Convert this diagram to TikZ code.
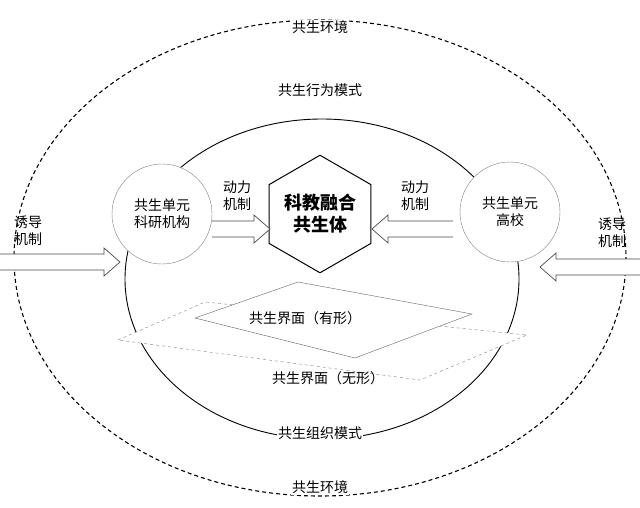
\documentclass[tikz,border=0pt]{standalone}
\usepackage{fontspec}
\setmainfont{Noto Sans CJK SC}
\usetikzlibrary{shapes.geometric}
\newcommand{\myblockarrow}[4]{% name, tail x, tip x, y
  \path let \n1={#3>#2?1:-1} in coordinate (#1) at (#3,#4)
   [draw=black!70,fill=white,line width=0.7pt]
   (#2,#4-8) -- (#3-\n1*16,#4-8) -- (#3-\n1*16,#4-14) -- (#3,#4) -- (#3-\n1*16,#4+14) -- (#3-\n1*16,#4+8) -- (#2,#4+8);}
\usetikzlibrary{calc}
\begin{document}
\begin{tikzpicture}[x=1pt,y=-1pt,
  lbl/.style={font=\fontsize{14}{17}\selectfont},
  unit/.style={circle,draw=black!50,fill=white,minimum size=100pt,inner sep=0pt,font=\fontsize{14}{17}\selectfont,align=center}]
\useasboundingbox (0,0) rectangle (640,507);
\draw[dashed,line width=1.1pt,dash pattern=on 4pt off 3pt] (320,258) ellipse [x radius=306,y radius=238];
\draw[line width=0.9pt] (322,279) ellipse [x radius=197,y radius=160];
% diamonds
\draw[dashed,draw=black!50,fill=white] (118,340) -- (205,302) -- (527,335) -- (420,380) -- cycle;
\draw[draw=black!60,fill=white] (195,318) -- (298,282) -- (472,314) -- (355,358) -- cycle;
\node[lbl] (ty) at (305,318) {共生界面（有形）};
\node[lbl] (wx) at (328,378) {共生界面（无形）};
% circles
\node[unit] (L) at (162,214) {共生单元\\科研机构};
\node[unit] (R) at (510,212) {共生单元\\高校};
% hexagon
\node[regular polygon,regular polygon sides=6,shape border rotate=30,draw,line width=1pt,fill=white,minimum size=114pt,inner sep=0pt,font=\fontsize{18}{22}\selectfont\bfseries,align=center] (H) at (320,214) {科教融合\\共生体};
% arrows
\myblockarrow{a1}{212}{270}{229}
\myblockarrow{a2}{453}{372}{229}
\myblockarrow{a3}{0}{120}{262}
\myblockarrow{a4}{640}{540}{267}
% labels
\node[lbl,fill=white,inner sep=1pt] (e1) at (320,27) {共生环境};
\node[lbl,fill=white,inner sep=1pt] (e2) at (320,487) {共生环境};
\node[lbl] (b1) at (320,90) {共生行为模式};
\node[lbl,fill=white,inner sep=1pt] (b2) at (320,433) {共生组织模式};
\node[lbl,align=center] (d1) at (237,196) {动力\\机制};
\node[lbl,align=center] (d2) at (415,196) {动力\\机制};
\node[lbl,align=center] (y1) at (28,231) {诱导\\机制};
\node[lbl,align=center] (y2) at (612,233) {诱导\\机制};
\end{tikzpicture}
\end{document}
